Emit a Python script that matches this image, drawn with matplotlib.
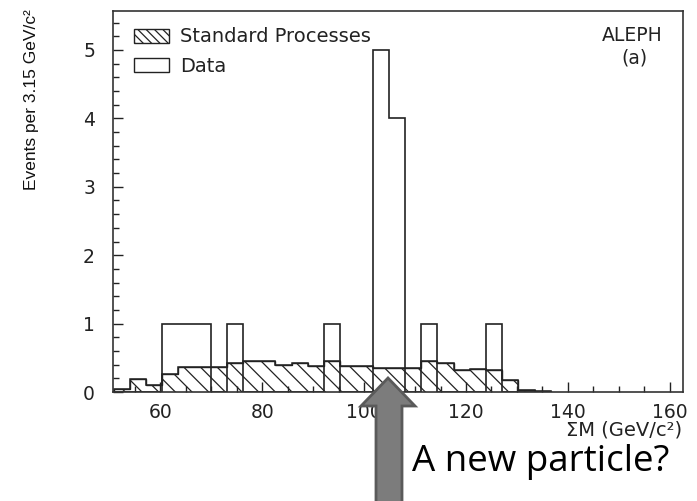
import numpy as np
import matplotlib
matplotlib.use("Agg")
import matplotlib.pyplot as plt
from matplotlib.patches import Patch, Polygon

# histogram bins (GeV/c^2)
bin_start = 50.8
bin_width = 3.18

# expected background per bin (hatched)
standard_processes = [0.04, 0.19, 0.10, 0.27, 0.37, 0.37, 0.36, 0.43, 0.46, 0.46,
                      0.39, 0.42, 0.38, 0.45, 0.38, 0.38, 0.35, 0.35, 0.35, 0.46,
                      0.42, 0.32, 0.33, 0.32, 0.17, 0.03, 0.02]
# observed events per bin
data_counts = [0, 0, 0, 1, 1, 1, 0, 1, 0, 0,
               0, 0, 0, 1, 0, 0, 5, 4, 0, 1,
               0, 0, 0, 1, 0, 0, 0]

edges = bin_start + bin_width * np.arange(len(data_counts) + 1)

plt.rcParams['hatch.linewidth'] = 0.9
plt.rcParams['font.family'] = ['DejaVu Sans']

W, H = 697, 501
fig = plt.figure(figsize=(W / 100, H / 100), dpi=100)
ax = fig.add_axes([113 / W, 1 - 392 / H, (683 - 113) / W, (392 - 11) / H])

ax.stairs(standard_processes, edges, fill=True, facecolor='white',
          edgecolor='#222222', hatch='\\\\', linewidth=1.0)
ax.stairs(standard_processes, edges, color='#222222', linewidth=1.1)
ax.stairs(data_counts, edges, color='#222222', linewidth=1.2)

ax.set_xlim(50.7, 162.6)
ax.set_ylim(0, 5.57)
ax.set_xticks([60, 80, 100, 120, 140, 160])
ax.set_xticks(np.arange(55, 161, 5), minor=True)
ax.set_yticks([0, 1, 2, 3, 4, 5])
ax.set_yticks(np.arange(0, 5.5, 0.2), minor=True)
ax.tick_params(which='both', direction='in', top=False, right=False,
               color='#222222', width=1.0)
ax.tick_params(which='major', length=7, labelsize=13.5, labelcolor='#222222')
ax.tick_params(which='minor', length=4)
ax.tick_params(axis='y', pad=13)
ax.tick_params(axis='x', pad=8)
for s in ax.spines.values():
    s.set_linewidth(1.2)
    s.set_color('#333333')

leg = ax.legend(handles=[Patch(facecolor='white', edgecolor='#222222', hatch='\\\\\\\\'),
                         Patch(facecolor='white', edgecolor='#222222')],
                labels=['Standard Processes', 'Data'],
                loc='upper left', bbox_to_anchor=(0.036, 0.957), frameon=False,
                fontsize=14, handlelength=1.8, handleheight=0.72,
                handletextpad=0.6, labelspacing=0.55, borderpad=0, borderaxespad=0)
for t in leg.get_texts():
    t.set_color('#222222')

ax.text(0.965, 0.937, 'ALEPH', transform=ax.transAxes, ha='right', va='center',
        fontsize=13.5, color='#222222')
ax.text(0.914, 0.877, '(a)', transform=ax.transAxes, ha='center', va='center',
        fontsize=13.5, color='#222222')

fig.text(682 / W, 1 - 430 / H, 'ΣM (GeV/c²)', ha='right', va='center',
         fontsize=14, color='#222222')
fig.text(32 / W, 1 - 100 / H, 'Events per 3.15 GeV/c²', rotation=90,
         ha='center', va='center', fontsize=12.5,
         family=['Liberation Sans Narrow', 'Liberation Sans'], color='#111111')

# the big grey arrow pointing at the peak
arrow_px = [(388, 378), (415, 406), (402, 406), (402, 505), (376, 505),
            (376, 406), (361, 406)]
arrow = Polygon([(x / W, 1 - y / H) for x, y in arrow_px], closed=True,
                transform=fig.transFigure, facecolor='#7c7c7c',
                edgecolor='#5a5a5a', linewidth=2, zorder=5)
fig.add_artist(arrow)

fig.text(412 / W, 1 - 471 / H, 'A new particle?', ha='left', va='baseline',
         fontsize=26.5, family=['Open Sans', 'DejaVu Sans'], color='black')

fig.savefig('out.png', dpi=100)
